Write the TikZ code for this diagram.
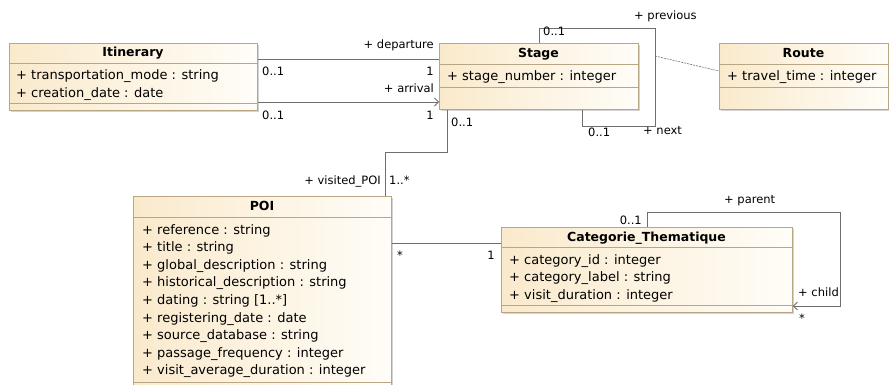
\documentclass[tikz,border=0pt]{standalone}
\usepackage{fontspec}
\setmainfont{DejaVu Sans}
\usetikzlibrary{arrows.meta,shadows}
\definecolor{clsL}{RGB}{250,234,204}
\definecolor{clsR}{RGB}{255,253,248}
\definecolor{clsB}{RGB}{184,166,132}
\definecolor{lnk}{RGB}{110,110,110}
\tikzset{
  cls/.style={draw=clsB, line width=0.9pt, left color=clsL, right color=clsR,
    anchor=north west, inner sep=0pt,
    drop shadow={shadow xshift=1.5pt, shadow yshift=-1.5pt, fill=black!50, opacity=0.35}},
  div/.style={draw=clsB, line width=0.9pt},
  attr/.style={anchor=base west, inner sep=0pt, font=\fontsize{13}{15}\selectfont},
  ttl/.style={anchor=base, inner sep=0pt, font=\fontsize{12.5}{15}\selectfont\bfseries},
  lbl/.style={anchor=base west, inner sep=0pt, font=\fontsize{11.5}{13}\selectfont},
  lblr/.style={anchor=base east, inner sep=0pt, font=\fontsize{11.5}{13}\selectfont},
  assoc/.style={draw=lnk, line width=0.8pt},
  nav/.style={assoc, -{Straight Barb[length=4pt,width=8pt]}},
  aclass/.style={draw=lnk, line width=0.6pt, dash pattern=on 2pt off 1pt},
}
\begin{document}
\begin{tikzpicture}[x=1pt,y=-1pt]
\useasboundingbox (0,0) rectangle (889,385);

% ---------- classes ----------
\node[cls, minimum width=248pt, minimum height=67pt] (itin) at (9,43) {};
\draw[div] ([yshift=-20pt]itin.north west) -- ([yshift=-20pt]itin.north east);
\draw[div] ([yshift=-60pt]itin.north west) -- ([yshift=-60pt]itin.north east);
\node[ttl] (itin-t) at (133,57) {Itinerary};
\node[attr] (itin-a1) at (16,80) {+ transportation\_mode : string};
\node[attr] (itin-a2) at (16,97.5) {+ creation\_date : date};

\node[cls, minimum width=199pt, minimum height=66pt] (stage) at (439,43) {};
\draw[div] ([yshift=-21pt]stage.north west) -- ([yshift=-21pt]stage.north east);
\draw[div] ([yshift=-44pt]stage.north west) -- ([yshift=-44pt]stage.north east);
\node[ttl] (stage-t) at (538.5,57.7) {Stage};
\node[attr] (stage-a1) at (447,81) {+ stage\_number : integer};

\node[cls, minimum width=169pt, minimum height=66pt] (route) at (719,43) {};
\draw[div] ([yshift=-21pt]route.north west) -- ([yshift=-21pt]route.north east);
\draw[div] ([yshift=-44pt]route.north west) -- ([yshift=-44pt]route.north east);
\node[ttl] (route-t) at (803.5,57.7) {Route};
\node[attr] (route-a1) at (727,81) {+ travel\_time : integer};

\node[cls, minimum width=258pt, minimum height=196pt] (poi) at (133,196) {};
\draw[div] ([yshift=-21pt]poi.north west) -- ([yshift=-21pt]poi.north east);
\draw[div] ([yshift=-186pt]poi.north west) -- ([yshift=-186pt]poi.north east);
\node[ttl] (poi-t) at (262,211) {POI};
\foreach \t [count=\i from 0] in {
  + reference : string,
  + title : string,
  + global\_description : string,
  + historical\_description : string,
  + dating : string {[1..*]},
  + registering\_date : date,
  + source\_database : string,
  + passage\_frequency : integer,
  + visit\_average\_duration : integer}
  \node[attr] (poi-a\i) at (142,234+17.6*\i) {\t};

\node[cls, minimum width=291pt, minimum height=85pt] (cat) at (501,227) {};
\draw[div] ([yshift=-20pt]cat.north west) -- ([yshift=-20pt]cat.north east);
\draw[div] ([yshift=-78pt]cat.north west) -- ([yshift=-78pt]cat.north east);
\node[ttl] (cat-t) at (646.5,241) {Categorie\_Thematique};
\node[attr] (cat-a1) at (509,264) {+ category\_id : integer};
\node[attr] (cat-a2) at (509,281.5) {+ category\_label : string};
\node[attr] (cat-a3) at (509,299) {+ visit\_duration : integer};

% ---------- connectors ----------
\draw[assoc] (itin.east |- 0,59) -- (stage.west |- 0,59);
\draw[nav] (itin.east |- 0,102) -- (stage.west |- 0,102);
\draw[assoc] (539,0 |- stage.north) -- (539,28) -- (655,28) -- (655,126) -- (582,126) -- (582,0 |- stage.south);
\coordinate (loopmid) at (655,56);
\draw[aclass] (loopmid) -- (route.west |- 0,71);
\draw[assoc] (447,0 |- stage.south) -- (447,152) -- (385,152) -- (385,0 |- poi.north);
\draw[assoc] (poi.east |- 0,243) -- (cat.west |- 0,243);
\draw[nav] (647,0 |- cat.north) -- (647,212) -- (840,212) -- (840,306) -- (cat.east |- 0,306);

% ---------- labels ----------
\node[lblr] (l-dep) at (434,49) {+ departure};
\node[lbl] (l-dm1) at (262,75.5) {0..1};
\node[lblr] (l-dm2) at (434,75.5) {1};
\node[lblr] (l-arr) at (434,92.7) {+ arrival};
\node[lbl] (l-am1) at (262,119.3) {0..1};
\node[lblr] (l-am2) at (434,119.3) {1};
\node[lbl] (l-pm) at (543,36) {0..1};
\node[lbl] (l-prev) at (634,19.3) {+ previous};
\node[lbl] (l-nm) at (588,137) {0..1};
\node[lbl] (l-next) at (643,135) {+ next};
\node[lbl] (l-sm) at (451,126.7) {0..1};
\node[lblr] (l-vis) at (381,185) {+ visited\_POI};
\node[lbl] (l-vm) at (389,185) {1..*};
\node[lbl] (l-pstar) at (397,259) {*};
\node[lblr] (l-c1) at (495,259.3) {1};
\node[lblr] (l-parm) at (642,224.3) {0..1};
\node[lbl] (l-par) at (724,203.3) {+ parent};
\node[lbl] (l-child) at (798,296) {+ child};
\node[lbl] (l-cstar) at (799,322) {*};
\end{tikzpicture}
\end{document}
